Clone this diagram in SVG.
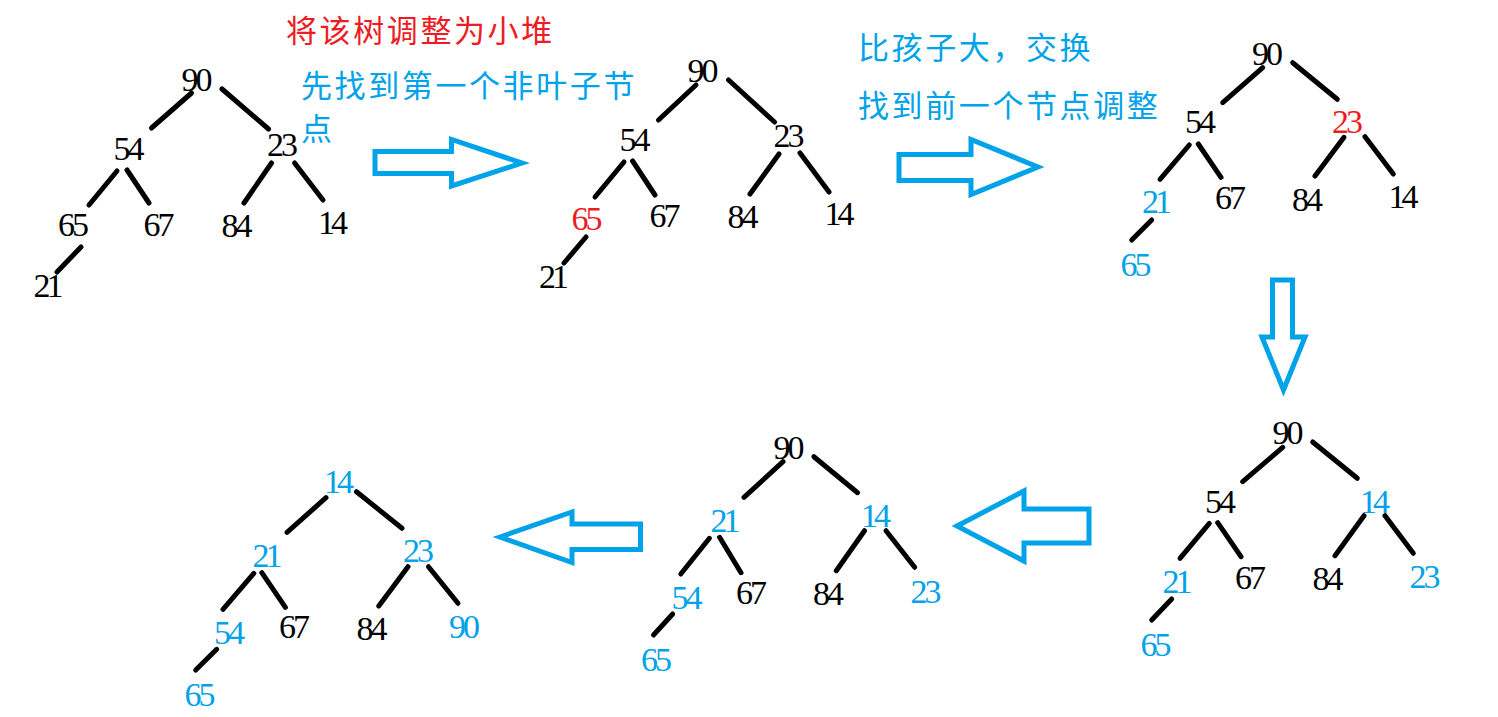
<svg xmlns="http://www.w3.org/2000/svg" width="1498" height="717" viewBox="0 0 1498 717">
<style>
.n{font-family:"Liberation Serif","DejaVu Serif",serif;font-size:34px;text-anchor:middle;fill:#000}
.r{fill:#ed1c24}
.b{fill:#00a2e8}
.cj{font-family:"Noto Sans CJK SC","Noto Sans",sans-serif;font-size:31px;letter-spacing:2.6px}
.e line{stroke:#000;stroke-width:5;stroke-linecap:round}
.ar polygon{fill:none;stroke:#00a2e8;stroke-width:5;stroke-linejoin:miter}
</style>
<rect width="1498" height="717" fill="#fff"/>
<g id="captions">
<text class="cj r" x="286" y="42">将该树调整为小堆</text>
<text class="cj b" x="301" y="97">先找到第一个非叶子节</text>
<text class="cj b" x="301" y="140">点</text>
<text class="cj b" x="858" y="59">比孩子大，交换</text>
<text class="cj b" x="858" y="117">找到前一个节点调整</text>
</g>
<g id="connectors">
<g class="e">
<line x1="191.5" y1="93" x2="151.5" y2="128"/>
<line x1="222" y1="89" x2="268.5" y2="129"/>
<line x1="117" y1="171" x2="89" y2="205"/>
<line x1="127" y1="170" x2="149" y2="203"/>
<line x1="271.5" y1="163" x2="244" y2="203"/>
<line x1="294.6" y1="163" x2="323" y2="200"/>
<line x1="81" y1="247" x2="57" y2="272"/>

<line x1="696" y1="85" x2="658.5" y2="120"/>
<line x1="728.6" y1="80" x2="774.5" y2="122"/>
<line x1="624" y1="162" x2="595" y2="197"/>
<line x1="632.6" y1="161" x2="655" y2="195"/>
<line x1="779" y1="154" x2="750" y2="194"/>
<line x1="800" y1="153" x2="829" y2="192"/>
<line x1="586" y1="237" x2="564" y2="263"/>

<line x1="1262.7" y1="67.7" x2="1222.7" y2="102.7"/>
<line x1="1292.7" y1="62.7" x2="1337.3" y2="99.3"/>
<line x1="1189.3" y1="145" x2="1160" y2="179.3"/>
<line x1="1198.3" y1="144" x2="1221" y2="177.3"/>
<line x1="1344" y1="137.3" x2="1315" y2="176"/>
<line x1="1365" y1="136.7" x2="1393.3" y2="174"/>
<line x1="1151.7" y1="220" x2="1131.7" y2="240"/>

<line x1="1282.7" y1="447.3" x2="1242.7" y2="481.7"/>
<line x1="1312.7" y1="442" x2="1357.3" y2="478.3"/>
<line x1="1209.3" y1="523.3" x2="1180" y2="558.3"/>
<line x1="1217.7" y1="522.7" x2="1241" y2="556.7"/>
<line x1="1364" y1="515.7" x2="1335" y2="555.7"/>
<line x1="1385" y1="515.7" x2="1413.3" y2="553.3"/>
<line x1="1171.7" y1="599" x2="1151.7" y2="620"/>

<line x1="783" y1="461.7" x2="744" y2="497.3"/>
<line x1="813.9" y1="456.7" x2="857.6" y2="492.7"/>
<line x1="709.4" y1="538.3" x2="680.8" y2="574"/>
<line x1="719.6" y1="537.3" x2="741" y2="572.7"/>
<line x1="864.5" y1="530.7" x2="836.3" y2="570.7"/>
<line x1="886" y1="530.7" x2="914.7" y2="567.3"/>
<line x1="672.7" y1="614" x2="653.5" y2="635"/>

<line x1="326" y1="497.7" x2="287" y2="532.3"/>
<line x1="356.5" y1="491.7" x2="402" y2="528.3"/>
<line x1="253.8" y1="573.3" x2="223" y2="609.3"/>
<line x1="261.8" y1="572.7" x2="285.4" y2="607.3"/>
<line x1="408" y1="566.7" x2="378.8" y2="606"/>
<line x1="428.5" y1="566.7" x2="458" y2="603.3"/>
<line x1="216.7" y1="649.3" x2="195.7" y2="670"/>
</g>
<g class="ar">
<polygon points="375,151.5 451.5,151.5 451.5,139.5 522,163 451.5,186 451.5,173.5 375,173.5"/>
<polygon points="899,154.5 971,154.5 971,139.5 1038,167 971,194.5 971,180.5 899,180.5"/>
<polygon points="1272.5,280 1292.5,280 1292.5,337 1305,337 1283.5,390 1262,337 1272.5,337"/>
<polygon points="957,526 1024,491 1024,509 1089,509 1089,543 1024,543 1024,561"/>
<polygon points="500,537 572,512 572,524 640.5,524 640.5,549.5 572,549.5 572,562.5"/>
</g>
</g>
<g id="tree1">
<g id="t1-90"><text class="n" x="197" y="91" textLength="31">90</text></g>
<g id="t1-54"><text class="n" x="129" y="160" textLength="31">54</text></g>
<g id="t1-23"><text class="n" x="282.5" y="156" textLength="31">23</text></g>
<g id="t1-65"><text class="n" x="73.5" y="236" textLength="31">65</text></g>
<g id="t1-67"><text class="n" x="159" y="236" textLength="31">67</text></g>
<g id="t1-84"><text class="n" x="237" y="237" textLength="31">84</text></g>
<g id="t1-14"><text class="n" x="333" y="234" textLength="30">14</text></g>
<g id="t1-21"><text class="n" x="48.5" y="297" textLength="30">21</text></g>
</g>
<g id="tree2">
<g id="t2-90"><text class="n" x="703" y="82" textLength="31">90</text></g>
<g id="t2-54"><text class="n" x="635" y="151" textLength="31">54</text></g>
<g id="t2-23"><text class="n" x="789" y="147" textLength="31">23</text></g>
<g id="t2-65"><text class="n r" x="587" y="230" textLength="31">65</text></g>
<g id="t2-67"><text class="n" x="665" y="227" textLength="31">67</text></g>
<g id="t2-84"><text class="n" x="743" y="228" textLength="31">84</text></g>
<g id="t2-14"><text class="n" x="839.5" y="225" textLength="30">14</text></g>
<g id="t2-21"><text class="n" x="554" y="288" textLength="30">21</text></g>
</g>
<g id="tree3">
<g id="t3-90"><text class="n" x="1267.5" y="65" textLength="31">90</text></g>
<g id="t3-54"><text class="n" x="1200.5" y="133" textLength="31">54</text></g>
<g id="t3-23"><text class="n r" x="1347.5" y="132.5" textLength="31">23</text></g>
<g id="t3-21"><text class="n b" x="1157" y="212.5" textLength="30">21</text></g>
<g id="t3-67"><text class="n" x="1230.5" y="209" textLength="31">67</text></g>
<g id="t3-84"><text class="n" x="1307.5" y="210.5" textLength="31">84</text></g>
<g id="t3-14"><text class="n" x="1403.5" y="207.5" textLength="30">14</text></g>
<g id="t3-65"><text class="n b" x="1136" y="276" textLength="31">65</text></g>
</g>
<g id="tree4">
<g id="t4-90"><text class="n" x="1288" y="444" textLength="31">90</text></g>
<g id="t4-54"><text class="n" x="1220.5" y="513" textLength="31">54</text></g>
<g id="t4-14"><text class="n b" x="1375" y="512.5" textLength="30">14</text></g>
<g id="t4-21"><text class="n b" x="1177.5" y="592.5" textLength="30">21</text></g>
<g id="t4-67"><text class="n" x="1250.5" y="589" textLength="31">67</text></g>
<g id="t4-84"><text class="n" x="1328" y="590" textLength="31">84</text></g>
<g id="t4-23"><text class="n b" x="1425" y="588" textLength="31">23</text></g>
<g id="t4-65"><text class="n b" x="1156" y="656" textLength="31">65</text></g>
</g>
<g id="tree5">
<g id="t5-90"><text class="n" x="789" y="459" textLength="31">90</text></g>
<g id="t5-21"><text class="n b" x="725.5" y="531.5" textLength="30">21</text></g>
<g id="t5-14"><text class="n b" x="876" y="527" textLength="30">14</text></g>
<g id="t5-54"><text class="n b" x="687" y="609" textLength="31">54</text></g>
<g id="t5-67"><text class="n" x="751.5" y="604" textLength="31">67</text></g>
<g id="t5-84"><text class="n" x="828.5" y="605" textLength="31">84</text></g>
<g id="t5-23"><text class="n b" x="926" y="603" textLength="31">23</text></g>
<g id="t5-65"><text class="n b" x="656.5" y="670.5" textLength="31">65</text></g>
</g>
<g id="tree6">
<g id="t6-14"><text class="n b" x="339" y="493" textLength="30">14</text></g>
<g id="t6-21"><text class="n b" x="267.5" y="567" textLength="30">21</text></g>
<g id="t6-23"><text class="n b" x="418.5" y="562" textLength="31">23</text></g>
<g id="t6-54"><text class="n b" x="229.5" y="644" textLength="31">54</text></g>
<g id="t6-67"><text class="n" x="294.5" y="638" textLength="31">67</text></g>
<g id="t6-84"><text class="n" x="372" y="640" textLength="31">84</text></g>
<g id="t6-90"><text class="n b" x="464.5" y="638" textLength="31">90</text></g>
<g id="t6-65"><text class="n b" x="200" y="706" textLength="31">65</text></g>
</g>
</svg>
